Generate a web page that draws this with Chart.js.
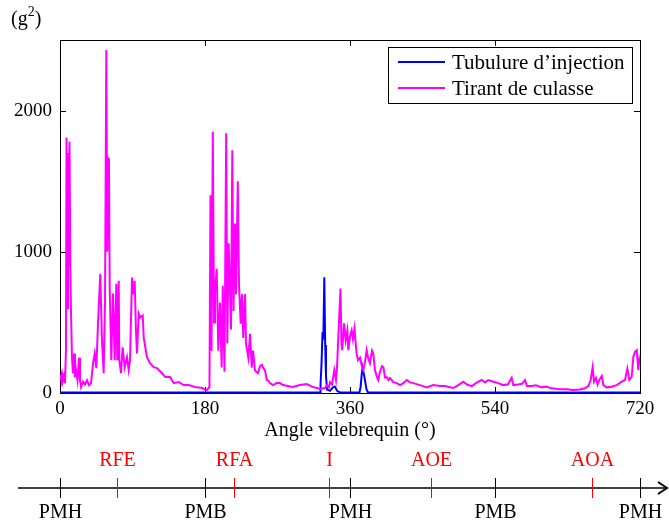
<!DOCTYPE html>
<html>
<head>
<meta charset="utf-8">
<script src="https://cdn.jsdelivr.net/npm/chart.js@4.4.1/dist/chart.umd.min.js"></script>
<style>
  html, body { margin: 0; padding: 0; background: #fff; }
  canvas { display: block; }
</style>
</head>
<body>
<canvas id="chart" width="669" height="524"></canvas>
<script>
// Angle vilebrequin (deg) and vibration level (g^2)
const tirantAngles = [0,1.2,2.5,3.7,5.0,6.2,7.4,8.1,9.1,9.9,10.8,11.8,12.8,13.7,14.9,16.1,17.4,18.6,19.9,21.7,23.6,24.8,26.1,28.6,31.0,33.5,36.0,38.5,41.0,43.1,45.1,47.2,50.0,52.1,54.2,55.9,57.5,58.7,59.6,60.8,61.7,63.7,65.8,67.9,69.9,71.1,72.9,73.6,75.7,77.8,80.3,83.2,85.3,86.9,89.4,91.0,92.7,94.3,95.6,97.7,99.7,102.7,103.9,105.9,108.0,111.7,116.3,120.4,126.6,130.7,136.6,141.1,147.4,153.6,159.8,167.6,176.3,180.0,182.5,185.0,185.6,186.8,188.1,189.7,191.2,192.4,194.5,196.5,198.6,200.7,202.0,204.2,206.3,207.7,209.4,211.0,212.3,213.9,215.4,217.2,218.5,220.7,222.2,224.3,225.9,227.5,229.7,230.9,233.8,235.9,238.0,239.6,242.1,245.8,248.3,250.8,252.0,254.5,256.6,258.2,260.7,264.4,269.0,273.1,276.8,283.0,289.2,297.9,306.3,312.8,318.7,322.8,329.0,331.5,333.9,335.2,337.7,340.5,342.6,343.9,345.5,348.2,349.4,350.4,352.6,354.7,356.7,357.9,360.0,362.1,363.7,365.6,368.1,369.9,372.4,374.5,376.5,378.6,380.7,382.4,384.8,387.3,388.9,391.0,393.5,395.1,397.2,399.7,401.4,403.5,405.6,407.6,409.7,413.8,418.0,422.1,426.2,430.4,434.5,438.6,446.9,455.2,463.4,471.7,477.9,488.2,494.5,500.7,505.2,511.1,517.3,523.5,527.6,531.7,537.9,544.1,550.3,556.1,560.7,562.7,568.6,573.5,577.3,579.7,585.6,590.9,598.0,603.3,610.4,620.7,629.0,637.2,645.5,651.7,655.8,658.8,661.3,662.9,665.4,667.3,669.5,672.5,674.5,678.7,684.9,691.1,697.3,701.4,704.3,706.8,709.7,711.7,713.8,715.9,717.9,719.1,720];
const tirantValues = [130,100,140,90,120,70,300,1810,600,1700,900,1780,900,560,250,140,280,110,160,90,250,90,42,80,60,90,55,70,210,280,176,493,845,373,140,655,2430,1000,1660,1640,746,232,704,232,774,232,795,232,140,324,183,253,162,232,817,700,795,443,280,563,535,549,394,324,253,211,183,176,140,113,113,70,77,56,56,42,35,25,20,40,100,1400,300,1850,500,730,880,300,640,180,760,150,1840,350,1060,740,450,1720,580,1200,700,1500,770,490,700,390,700,350,250,420,180,300,160,140,190,200,180,160,92,90,70,56,70,70,56,49,42,56,63,45,35,28,35,56,40,77,60,162,92,183,394,740,350,303,493,373,443,303,400,443,380,457,282,232,250,197,162,220,303,250,211,300,280,162,113,92,150,190,183,110,113,92,106,77,70,56,70,92,75,70,56,40,56,50,49,35,56,80,60,49,73,92,75,92,80,70,56,62,108,56,60,65,92,50,49,55,40,45,33,26,26,21,25,33,49,92,185,80,106,60,92,120,56,40,44,56,80,92,173,92,115,255,291,303,162,232,200];

const tubulureAngles = [0,322.8,323.4,324.6,325.9,326.9,328.1,329.2,330.2,331.5,335.2,338.9,341.4,343.9,347.6,371.8,373.1,374.5,375.7,376.7,378.6,380.5,382.4,720];
const tubulureValues = [4,5,60,200,430,380,820,340,120,25,15,40,45,15,4,5,40,130,180,150,90,25,4,4];

const xTicks = [0, 180, 360, 540, 720];
const yTicks = [0, 1000, 2000];

// cycle moteur (axe du bas)
const pointsMorts = [0, 180, 360, 540, 720];
const pointsMortsLabels = ['PMH', 'PMB', 'PMH', 'PMB', 'PMH'];
const evenements = [71, 216, 334, 460, 660];
const evenementsLabels = ['RFE', 'RFA', 'I', 'AOE', 'AOA'];

const seriesNames = ['Tubulure d\u2019injection', 'Tirant de culasse'];
const seriesColors = ['#0000ff', '#ff00ff'];

const FONT = '"Liberation Serif", "Times New Roman", serif';

function toPoints(xs, ys) {
  return xs.map((x, i) => ({ x: x, y: ys[i] }));
}

// frame + inward ticks, MATLAB style
const framePlugin = {
  id: 'frame',
  beforeDatasetsDraw(chart) {
    const { ctx, chartArea: a, scales } = chart;
    ctx.save();
    ctx.strokeStyle = '#000';
    ctx.lineWidth = 1;
    ctx.strokeRect(a.left + 0.5, a.top + 0.5, a.right - a.left, a.bottom - a.top);
    ctx.beginPath();
    xTicks.forEach(v => {
      const px = Math.round(scales.x.getPixelForValue(v)) + 0.5;
      ctx.moveTo(px, a.bottom); ctx.lineTo(px, a.bottom - 6);
      ctx.moveTo(px, a.top); ctx.lineTo(px, a.top + 6);
    });
    yTicks.forEach(v => {
      const py = Math.round(scales.y.getPixelForValue(v)) + 0.5;
      ctx.moveTo(a.left, py); ctx.lineTo(a.left + 6, py);
      ctx.moveTo(a.right, py); ctx.lineTo(a.right - 6, py);
    });
    ctx.stroke();
    ctx.restore();
  },
  afterDraw(chart) {
    const { ctx, scales } = chart;
    ctx.save();

    // unit label (g^2)
    ctx.fillStyle = '#000';
    ctx.textBaseline = 'alphabetic';
    ctx.textAlign = 'left';
    ctx.font = '20px ' + FONT;
    ctx.fillText('(g', 11, 25);
    let w = ctx.measureText('(g').width;
    ctx.font = '14px ' + FONT;
    ctx.fillText('2', 11 + w, 16);
    const w2 = ctx.measureText('2').width;
    ctx.font = '20px ' + FONT;
    ctx.fillText(')', 11 + w + w2, 25);

    // legend box
    const lx = 388, ly = 47, lw = 244, lh = 56;
    ctx.fillStyle = '#fff';
    ctx.fillRect(lx, ly, lw, lh);
    ctx.strokeStyle = '#000';
    ctx.lineWidth = 1;
    ctx.strokeRect(lx + 0.5, ly + 0.5, lw, lh);
    seriesNames.forEach((name, i) => {
      const y = ly + 15 + i * 26;
      ctx.strokeStyle = seriesColors[i];
      ctx.lineWidth = 2;
      ctx.beginPath();
      ctx.moveTo(lx + 10, y);
      ctx.lineTo(lx + 57, y);
      ctx.stroke();
      ctx.fillStyle = '#000';
      ctx.font = '21px ' + FONT;
      ctx.textBaseline = 'middle';
      ctx.fillText(name, lx + 64, y + 1);
    });

    // engine cycle axis
    const ay = 488;
    ctx.strokeStyle = '#000';
    ctx.lineWidth = 1.5;
    ctx.beginPath();
    ctx.moveTo(18, ay);
    ctx.lineTo(666, ay);
    ctx.stroke();
    ctx.lineWidth = 2;
    ctx.beginPath();
    ctx.moveTo(658, ay - 6);
    ctx.lineTo(667, ay);
    ctx.lineTo(658, ay + 6);
    ctx.stroke();

    ctx.font = '20px ' + FONT;
    ctx.textAlign = 'center';
    ctx.textBaseline = 'middle';
    ctx.lineWidth = 1;
    pointsMorts.forEach((v, i) => {
      const px = Math.round(scales.x.getPixelForValue(v)) + 0.5;
      ctx.strokeStyle = '#000';
      ctx.beginPath();
      ctx.moveTo(px, ay - 10); ctx.lineTo(px, ay + 10);
      ctx.stroke();
      ctx.fillStyle = '#000';
      ctx.fillText(pointsMortsLabels[i], px, ay + 25);
    });
    evenements.forEach((v, i) => {
      const px = Math.round(scales.x.getPixelForValue(v)) + 0.5;
      ctx.strokeStyle = '#ff0000';
      ctx.beginPath();
      ctx.moveTo(px, ay - 10); ctx.lineTo(px, ay + 10);
      ctx.stroke();
      ctx.fillStyle = '#ff0000';
      ctx.fillText(evenementsLabels[i], px, ay - 27);
    });
    ctx.restore();
  }
};

const ctx = document.getElementById('chart').getContext('2d');
new Chart(ctx, {
  type: 'line',
  data: {
    datasets: [
      {
        label: seriesNames[1],
        data: toPoints(tirantAngles, tirantValues),
        borderColor: seriesColors[1],
        borderWidth: 2,
        pointRadius: 0,
        tension: 0,
        order: 0
      },
      {
        label: seriesNames[0],
        data: toPoints(tubulureAngles, tubulureValues),
        borderColor: seriesColors[0],
        borderWidth: 2,
        pointRadius: 0,
        tension: 0,
        order: 1
      }
    ]
  },
  options: {
    responsive: false,
    animation: false,
    devicePixelRatio: 1,
    layout: { padding: { top: 40, right: 29, left: 0, bottom: 81 } },
    plugins: {
      legend: { display: false },
      tooltip: { enabled: false }
    },
    scales: {
      x: {
        type: 'linear',
        min: 0,
        max: 720,
        grid: { display: false, drawTicks: false },
        border: { display: false },
        afterBuildTicks: s => { s.ticks = xTicks.map(v => ({ value: v })); },
        afterFit: s => { s.height = 50; },
        ticks: {
          color: '#000',
          padding: 5,
          maxRotation: 0,
          callback: v => String(v),
          font: { family: FONT, size: 19 }
        },
        title: {
          display: true,
          text: 'Angle vilebrequin (\u00b0)',
          color: '#000',
          padding: { top: 0, bottom: 0 },
          font: { family: FONT, size: 20 }
        }
      },
      y: {
        min: 0,
        max: 2500,
        grid: { display: false, drawTicks: false },
        border: { display: false },
        afterBuildTicks: s => { s.ticks = yTicks.map(v => ({ value: v })); },
        afterFit: s => { s.width = 60; },
        ticks: {
          color: '#000',
          padding: 8,
          callback: v => String(v),
          font: { family: FONT, size: 19 }
        }
      }
    }
  },
  plugins: [framePlugin]
});
</script>
</body>
</html>
